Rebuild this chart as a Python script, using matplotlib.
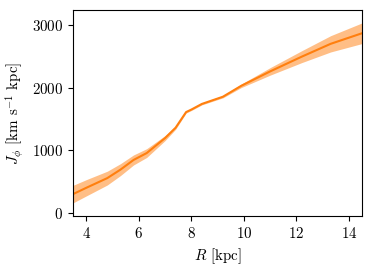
import numpy as np
import matplotlib
matplotlib.use("Agg")
import matplotlib.pyplot as plt

plt.rcParams["font.family"] = "serif"
plt.rcParams["font.serif"] = ["cmr10"]
plt.rcParams["mathtext.fontset"] = "cm"
plt.rcParams["axes.formatter.use_mathtext"] = True
plt.rcParams["font.size"] = 10.8

# values
R = [3.5, 4.0, 4.8, 5.3, 5.8, 6.3, 7.0, 7.4, 7.8, 8.0, 8.4, 9.2, 9.9, 11.0, 12.2, 13.3, 14.5]
J = [300, 400, 555, 690, 845, 955, 1195, 1360, 1610, 1650, 1740, 1855, 2030, 2260, 2495, 2700, 2870]
err = [140, 130, 110, 95, 80, 70, 40, 25, 15, 15, 15, 18, 28, 60, 95, 130, 165]

R = np.array(R)
J = np.array(J)
err = np.array(err)

fig, ax = plt.subplots(figsize=(3.73, 2.71), dpi=100)
ax.fill_between(R, J - err, J + err, color="C1", alpha=0.5, lw=0)
ax.plot(R, J, color="C1", lw=1.5)

ax.set_xlim(3.5, 14.5)
ax.set_ylim(-50, 3240)
ax.set_xticks([4, 6, 8, 10, 12, 14])
ax.set_yticks([0, 1000, 2000, 3000])
ax.set_xlabel(r"$R$ [kpc]")
ax.set_ylabel(r"$J_\phi$ [km s$^{-1}$ kpc]")

fig.subplots_adjust(left=0.196, right=0.971, top=0.963, bottom=0.203)
fig.savefig("out.png", dpi=100)
